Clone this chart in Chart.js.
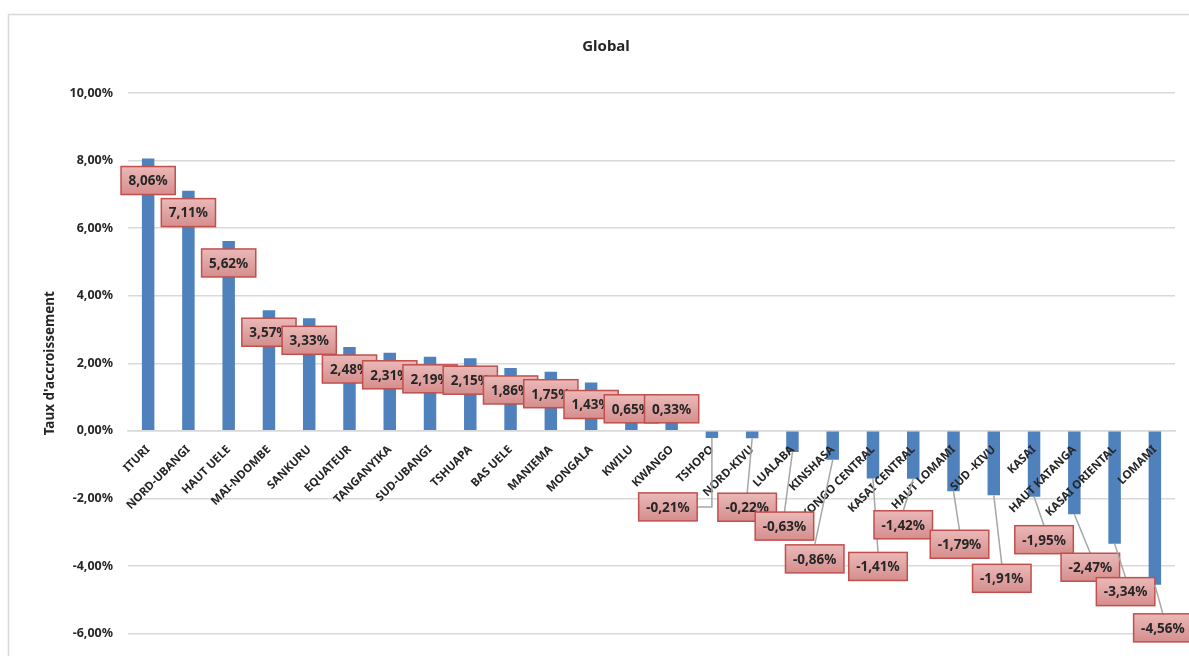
<!DOCTYPE html>
<html lang="fr">
<head>
<meta charset="utf-8">
<title>Global</title>
<script src="https://cdn.jsdelivr.net/npm/chart.js@4.4.1/dist/chart.umd.min.js"></script>
<style>
  html, body { margin: 0; padding: 0; background: #fff; }
  #wrap { width: 1189px; height: 656px; }
</style>
</head>
<body>
<div id="wrap"><canvas id="chart" width="1189" height="656"></canvas></div>
<script>
const TITLE = "Global";
const AXIS_TITLE = "Taux d'accroissement";

const provinces = [
  "ITURI", "NORD-UBANGI", "HAUT UELE", "MAI-NDOMBE", "SANKURU", "EQUATEUR",
  "TANGANYIKA", "SUD-UBANGI", "TSHUAPA", "BAS UELE", "MANIEMA", "MONGALA",
  "KWILU", "KWANGO", "TSHOPO", "NORD-KIVU", "LUALABA", "KINSHASA",
  "KONGO CENTRAL", "KASAI CENTRAL", "HAUT LOMAMI", "SUD -KIVU", "KASAI",
  "HAUT KATANGA", "KASAI ORIENTAL", "LOMAMI",
];

// taux d'accroissement, en %
const growthRates = [
  8.06, 7.11, 5.62, 3.57, 3.33, 2.48,
  2.31, 2.19, 2.15, 1.86, 1.75, 1.43,
  0.65, 0.33, -0.21, -0.22, -0.63, -0.86,
  -1.41, -1.42, -1.79, -1.91, -1.95,
  -2.47, -3.34, -4.56,
];

const yTicks = [10, 8, 6, 4, 2, 0, -2, -4, -6];

// label boxes that were dragged away from their bar (px from the bar end); null = default spot
const labelNudges = [
  null, null, null, null, null, null,
  null, null, null, null, null, null,
  null, null, [-44, 69], [-5, 69], [-8, 74], [-18, 99],
  [5, 88], [-10, 46], [6, 53], [8, 83], [10, 43],
  [16, 53], [11, 48], [8, 43],
];

const FONT = "'Noto Sans', 'DejaVu Sans', sans-serif";
const TEXT = "#262626";
const GRID = "#d9d9d9";

function fmtPct(value) {
  return `${Number(value).toFixed(2).replace(".", ",")}%`;
}

function drawValueLabels(chart) {
  const { ctx } = chart;
  const meta = chart.getDatasetMeta(0);
  const zeroY = chart.scales.y.getPixelForValue(0);
  ctx.save();
  ctx.font = `bold 13.5px ${FONT}`;
  meta.data.forEach((bar, i) => {
    const text = fmtPct(growthRates[i]);
    const w = ctx.measureText(text).width + 15;
    const h = 28;
    const nudge = labelNudges[i];
    let cx;
    let cy;
    if (nudge) {
      cx = bar.x + nudge[0];
      cy = bar.y + nudge[1];
    } else {
      cx = bar.x;
      cy = Math.min(bar.y + 22, zeroY - 22);
    }
    const left = cx - w / 2;
    const top = cy - h / 2;

    if (nudge) {
      ctx.strokeStyle = "#a6a6a6";
      ctx.lineWidth = 1.5;
      ctx.beginPath();
      ctx.moveTo(bar.x, bar.y);
      if (left + w < bar.x - 2) {
        ctx.lineTo(bar.x, cy);
        ctx.lineTo(left + w, cy);
      } else {
        ctx.lineTo(cx, top);
      }
      ctx.stroke();
    }

    const grad = ctx.createLinearGradient(0, top, 0, top + h);
    grad.addColorStop(0, "#eab9b8");
    grad.addColorStop(1, "#d58e8d");
    ctx.fillStyle = grad;
    ctx.fillRect(left, top, w, h);
    ctx.strokeStyle = "#c0504d";
    ctx.lineWidth = 1.5;
    ctx.strokeRect(left, top, w, h);

    ctx.fillStyle = TEXT;
    ctx.textAlign = "center";
    ctx.textBaseline = "middle";
    ctx.fillText(text, cx, cy + 1);
  });
  ctx.restore();
}

const decorations = {
  id: "decorations",
  beforeDraw(chart) {
    const { ctx } = chart;
    ctx.save();
    ctx.strokeStyle = GRID;
    ctx.lineWidth = 1.5;
    ctx.strokeRect(8.5, 14.5, 1400, 1000);
    ctx.restore();
  },
  afterDraw(chart) {
    const { ctx, chartArea } = chart;
    drawValueLabels(chart);
    ctx.save();
    ctx.fillStyle = TEXT;
    ctx.textAlign = "center";
    ctx.textBaseline = "middle";
    ctx.font = `bold 15px ${FONT}`;
    ctx.fillText(TITLE, 606, 47);
    ctx.translate(50, (chartArea.top + chartArea.bottom) / 2);
    ctx.rotate(-Math.PI / 2);
    ctx.font = `bold 13.5px ${FONT}`;
    ctx.fillText(AXIS_TITLE, 0, 0);
    ctx.restore();
  },
};

new Chart(document.getElementById("chart"), {
  type: "bar",
  data: {
    labels: provinces,
    datasets: [{
      data: growthRates,
      backgroundColor: "#4f81bd",
      borderWidth: 0,
      barPercentage: 0.31,
      categoryPercentage: 1,
    }],
  },
  options: {
    responsive: false,
    animation: false,
    devicePixelRatio: 1,
    layout: { padding: { left: 0, top: 93, right: 14, bottom: 22 } },
    plugins: {
      legend: { display: false },
      title: { display: false },
      tooltip: { enabled: false },
    },
    scales: {
      x: {
        position: { y: 0 },
        grid: { display: false, drawTicks: false },
        border: { display: true, color: GRID, width: 1.5 },
        ticks: {
          z: 1,
          autoSkip: false,
          maxRotation: 45,
          minRotation: 45,
          padding: 12,
          color: TEXT,
          font: { family: FONT, size: 11.5, weight: "bold" },
        },
      },
      y: {
        min: Math.min(...yTicks),
        max: Math.max(...yTicks),
        afterFit(scale) { scale.width = 128; },
        grid: { color: GRID, lineWidth: 1.5, drawTicks: false },
        border: { display: false },
        ticks: {
          stepSize: 2,
          padding: 15,
          color: TEXT,
          font: { family: FONT, size: 12.5, weight: "bold" },
          callback: (value) => fmtPct(value),
        },
      },
    },
  },
  plugins: [decorations],
});
</script>
</body>
</html>
